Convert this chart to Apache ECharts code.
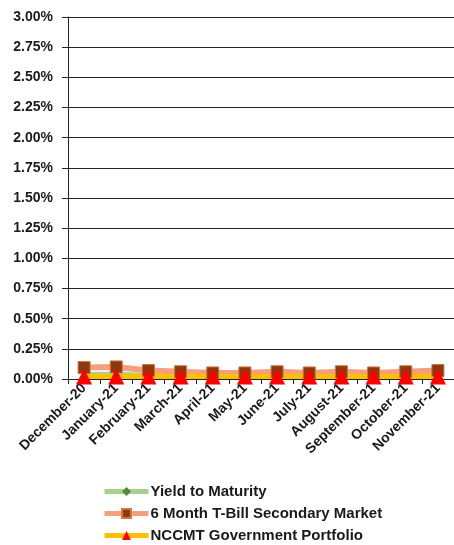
<!DOCTYPE html>
<html>
<head>
<meta charset="utf-8">
<script src="https://cdn.jsdelivr.net/npm/echarts@6/dist/echarts.min.js"></script>
<style>
  html, body { margin: 0; padding: 0; background: #fff; }
  #chart { width: 454px; height: 545px; }
</style>
</head>
<body>
<div id="chart"></div>
<script>
// data
let months = ['December-20', 'January-21', 'February-21', 'March-21', 'April-21', 'May-21',
    'June-21', 'July-21', 'August-21', 'September-21', 'October-21', 'November-21'];
let yieldToMaturity = [0.04, 0.04, 0.03, 0.03, 0.03, 0.03, 0.03, 0.03, 0.03, 0.03, 0.03, 0.03];
let tBill6Month = [0.095, 0.10, 0.07, 0.06, 0.05, 0.05, 0.06, 0.05, 0.06, 0.05, 0.06, 0.07];
let nccmtGov = [0.02, 0.02, 0.02, 0.02, 0.02, 0.02, 0.02, 0.02, 0.02, 0.02, 0.02, 0.02];

let font = 'Liberation Sans';
let textColor = '#1a1a1a';

var chart = echarts.init(document.getElementById('chart'));

option = {
    backgroundColor: '#fff',
    animation: false,
    grid: {
        left: 68,
        right: -5,
        top: 17,
        bottom: 166
    },
    legend: {
        orient: 'vertical',
        left: 97,
        top: 479,
        height: 66,
        itemWidth: 44,
        itemHeight: 11,
        itemGap: 7,
        lineStyle: { width: 5 },
        textStyle: {
            fontFamily: font,
            fontWeight: 'bold',
            fontSize: 15,
            color: textColor,
            padding: [0, 0, 0, -3]
        },
        data: ['Yield to Maturity', '6 Month T-Bill Secondary Market', 'NCCMT Government Portfolio']
    },
    xAxis: {
        type: 'category',
        data: months,
        boundaryGap: true,
        axisLine: { lineStyle: { color: '#222', width: 1 } },
        axisTick: { show: true, length: 5, lineStyle: { color: '#222' } },
        axisLabel: {
            interval: 0,
            rotate: 45,
            margin: 7,
            fontFamily: font,
            fontWeight: 'bold',
            fontSize: 14,
            color: textColor
        }
    },
    yAxis: {
        type: 'value',
        min: 0,
        max: 3,
        interval: 0.25,
        axisLine: { show: true, lineStyle: { color: '#222', width: 1 } },
        axisTick: { show: true, length: 6, lineStyle: { color: '#222' } },
        splitLine: { lineStyle: { color: '#222', width: 1 } },
        axisLabel: {
            margin: 15,
            fontFamily: font,
            fontWeight: 'bold',
            fontSize: 14,
            color: textColor,
            formatter: v => v.toFixed(2) + '%'
        }
    },
    series: [{
        name: 'Yield to Maturity',
        type: 'line',
        data: yieldToMaturity,
        symbol: 'diamond',
        symbolSize: 6,
        lineStyle: { color: '#A9D18E', width: 5 },
        itemStyle: { color: '#4E8A3A' }
    }, {
        name: '6 Month T-Bill Secondary Market',
        type: 'line',
        data: tBill6Month,
        symbol: 'rect',
        symbolSize: 12,
        lineStyle: { color: '#F4A07A', width: 6 },
        itemStyle: { color: '#8B3A10', borderColor: '#D8703A', borderWidth: 1 }
    }, {
        name: 'NCCMT Government Portfolio',
        type: 'line',
        data: nccmtGov,
        symbol: 'triangle',
        symbolSize: 16,
        lineStyle: { color: '#FFC000', width: 5 },
        itemStyle: { color: '#FF0000' }
    }]
};
chart.setOption(option);
</script>
</body>
</html>
